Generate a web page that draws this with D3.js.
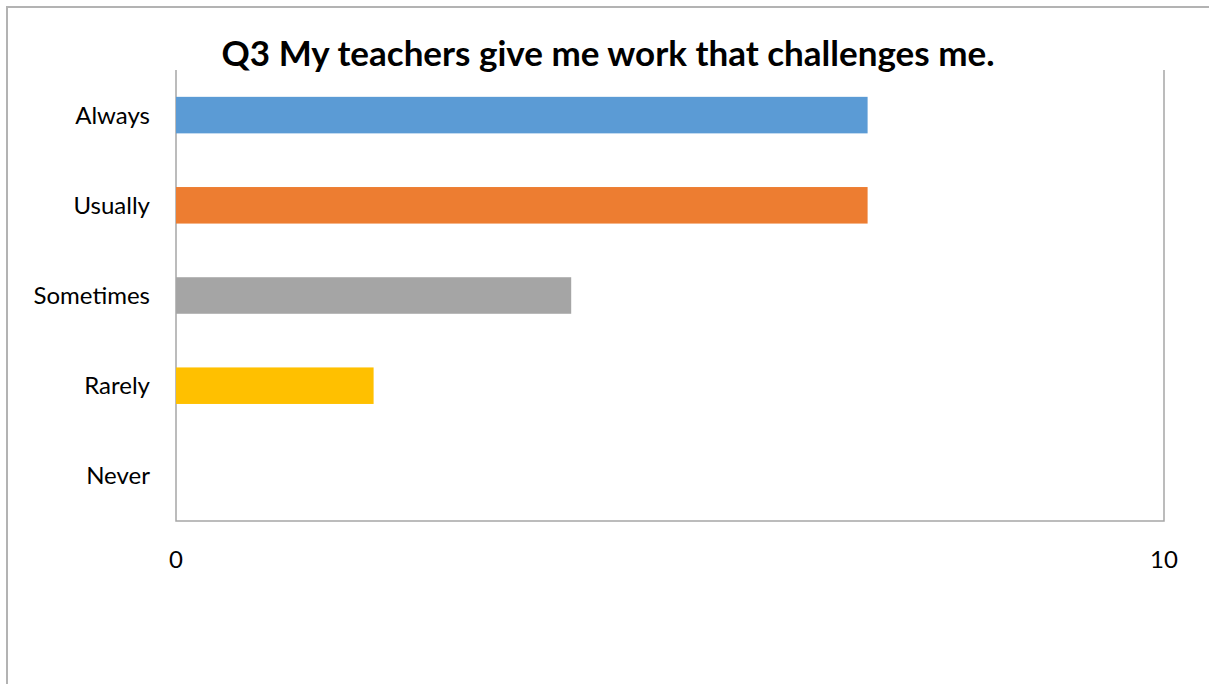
<!DOCTYPE html>
<html>
<head>
  <meta charset='utf-8'>
  <style>
  body { margin: 0; background: #fff; }
  text { font-family: Lato, 'Open Sans', sans-serif; fill: #000; }
  .frame { fill: none; stroke: #b3b3b3; stroke-width: 2px; }
  .plot-edge { fill: none; stroke: #a6a6a6; stroke-width: 1.5px; }
  </style>
</head>
<body>
<script src='https://d3js.org/d3.v7.min.js'></script>
<script>

var TITLE = 'Q3 My teachers give me work that challenges me.';
var categories = ['Always', 'Usually', 'Sometimes', 'Rarely', 'Never'];
var values = [7, 7, 4, 2, 0];
var colors = ['#5b9bd5', '#ed7d31', '#a5a5a5', '#ffc000', '#4472c4'];
var xTicks = [0, 10];

var SVG_WIDTH = 1209;
var SVG_HEIGHT = 684;

var svg = d3.select('body').append('svg')
    .attr('width', SVG_WIDTH)
    .attr('height', SVG_HEIGHT);

// outer chart frame (runs off the right and bottom edges)
svg.append('rect')
    .attr('class', 'frame')
    .attr('x', 7).attr('y', 7)
    .attr('width', SVG_WIDTH + 20).attr('height', SVG_HEIGHT + 20);

var margin = {top: 70, left: 176},
    width = 988,
    height = 451;

var g = svg.append('g').attr('transform', 'translate(' + margin.left + ',' + margin.top + ')');

var x = d3.scaleLinear().domain([0, 10]).range([0, width]);
var y = d3.scaleBand().domain(categories).range([0, height]).paddingInner(0.595).paddingOuter(0.2975);

// plot area: left, bottom and right edges only
g.append('path')
    .attr('class', 'plot-edge')
    .attr('d', 'M0,0V' + height + 'H' + width + 'V0');

g.selectAll('.bar')
    .data(categories)
  .enter().append('rect')
    .attr('class', 'bar')
    .attr('x', x(0))
    .attr('y', function(d) { return y(d); })
    .attr('width', function(d, i) { return x(values[i]) - x(0); })
    .attr('height', y.bandwidth())
    .attr('fill', function(d, i) { return colors[i]; });

g.selectAll('.cat')
    .data(categories)
  .enter().append('text')
    .attr('class', 'cat')
    .attr('x', -26)
    .attr('y', function(d) { return y(d) + y.bandwidth() / 2; })
    .attr('dy', '0.35em')
    .attr('text-anchor', 'end')
    .style('font-size', '24px')
    .text(function(d) { return d; });

g.selectAll('.tick-label')
    .data(xTicks)
  .enter().append('text')
    .attr('class', 'tick-label')
    .attr('x', function(d) { return x(d); })
    .attr('y', height + 47)
    .attr('text-anchor', 'middle')
    .style('font-size', '24px')
    .text(function(d) { return d; });

svg.append('text')
    .attr('x', 608)
    .attr('y', 66)
    .attr('text-anchor', 'middle')
    .style('font-size', '35px')
    .style('font-weight', 'bold')
    .text(TITLE);

</script>
</body>
</html>
